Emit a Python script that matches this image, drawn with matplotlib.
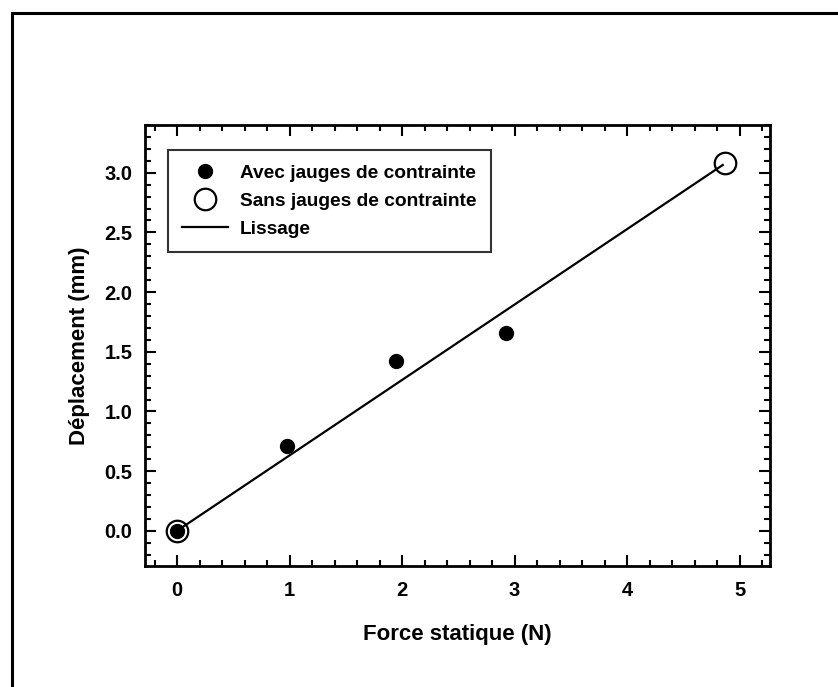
import numpy as np
import matplotlib.pyplot as plt
from matplotlib.patches import Rectangle
from matplotlib.ticker import MultipleLocator

plt.rcParams['font.family'] = ['Liberation Sans', 'DejaVu Sans']
plt.rcParams['font.weight'] = 'bold'

# Data
force_avec = [0.0, 0.98, 1.95, 2.92]
depl_avec = [0.0, 0.71, 1.42, 1.66]
force_sans = [0.0, 4.87]
depl_sans = [0.0, 3.08]
force_lissage = [0.0, 4.85]
depl_lissage = [0.0, 3.065]

fig = plt.figure(figsize=(8.38, 6.87), dpi=100)
ax = fig.add_axes([145 / 838, 1 - 566 / 687, 625 / 838, 441 / 687])

# outer frame (only top and left edges visible)
fig.patches.append(Rectangle((12 / 838, -0.2), 1.2, 1.2 - 13 / 687,
                             transform=fig.transFigure, fill=False,
                             edgecolor='black', linewidth=2.2))

ax.plot(force_avec, depl_avec, 'o', color='black', markersize=10,
        label='Avec jauges de contrainte', zorder=3)
ax.plot(force_sans, depl_sans, 'o', markerfacecolor='none',
        markeredgecolor='black', markeredgewidth=1.6, markersize=15.5,
        label='Sans jauges de contrainte', zorder=3)
ax.plot(force_lissage, depl_lissage, '-', color='black', linewidth=1.6,
        label='Lissage', zorder=2)

ax.set_xlim(-0.285, 5.27)
ax.set_ylim(-0.295, 3.4)
ax.xaxis.set_major_locator(MultipleLocator(1))
ax.xaxis.set_minor_locator(MultipleLocator(0.2))
ax.yaxis.set_major_locator(MultipleLocator(0.5))
ax.yaxis.set_minor_locator(MultipleLocator(0.1))
ax.yaxis.set_major_formatter(plt.FormatStrFormatter('%.1f'))

ax.tick_params(which='both', direction='in', top=True, right=True,
               labelsize=14.5, width=1.5)
ax.tick_params(which='major', length=8)
ax.tick_params(which='minor', length=4)
ax.tick_params(axis='x', which='major', pad=11)
ax.tick_params(axis='y', which='major', pad=9)
for s in ax.spines.values():
    s.set_linewidth(2)

ax.set_xlabel('Force statique (N)', fontsize=16, fontweight='bold', labelpad=17)
ax.set_ylabel('Déplacement (mm)', fontsize=16, fontweight='bold', labelpad=10)

leg = ax.legend(loc='upper left', bbox_to_anchor=(23 / 625, 1 - 25 / 441),
                fontsize=13.8, frameon=True, fancybox=False, edgecolor='black',
                borderpad=0.75, handlelength=2.4, labelspacing=0.55,
                handletextpad=0.6, borderaxespad=0)
leg.get_frame().set_linewidth(1.5)

fig.savefig('out.png', dpi=100)
